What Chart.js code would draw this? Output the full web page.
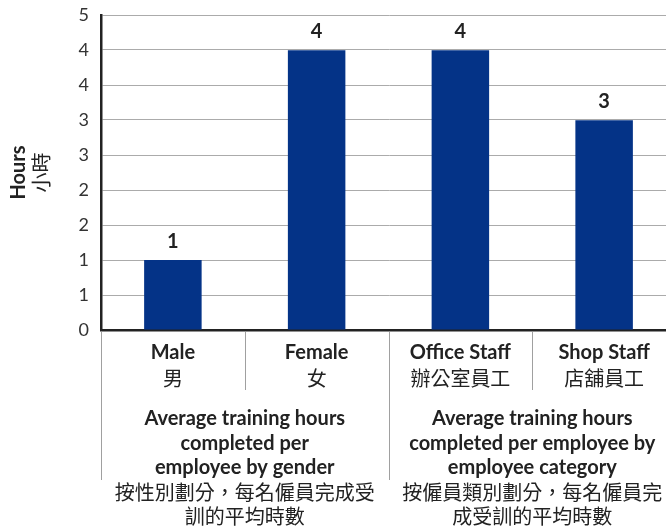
<!DOCTYPE html>
<html>
<head>
<meta charset="utf-8">
<script src="https://cdn.jsdelivr.net/npm/chart.js@4"></script>
<style>
  body { margin: 0; background: #fff; }
  #wrap { width: 666px; height: 527px; overflow: hidden; }
</style>
</head>
<body>
<div id="wrap"><canvas id="chart" width="676" height="527"></canvas></div>
<script>
// ================= DATA =================
const categoriesEn = ["Male", "Female", "Office Staff", "Shop Staff"];
const categoriesZh = ["男", "女", "辦公室員工", "店舖員工"];
const hours = [1.11, 4.44, 4.44, 3.33];
const yTickValues = [0, 5 / 9, 10 / 9, 15 / 9, 20 / 9, 25 / 9, 30 / 9, 35 / 9, 40 / 9, 5];
const yTitleEn = "Hours";
const yTitleZh = "小時";
const groups = [
  {
    from: 0, to: 1,
    en: ["Average training hours", "completed per", "employee by gender"],
    zh: ["按性別劃分，每名僱員完成受", "訓的平均時數"]
  },
  {
    from: 2, to: 3,
    en: ["Average training hours", "completed per employee by", "employee category"],
    zh: ["按僱員類別劃分，每名僱員完", "成受訓的平均時數"]
  }
];

const LATIN = "Lato, 'Open Sans', sans-serif";
const CJK = "'Noto Sans CJK TC', 'Noto Sans CJK SC', sans-serif";
const TEXT = "#222";

// ================= LABELS PLUGIN =================
const labelsPlugin = {
  id: "labels",
  afterDraw(chart) {
    const ctx = chart.ctx;
    const x = chart.scales.x;
    const area = chart.chartArea;
    const meta = chart.getDatasetMeta(0);
    const half = (x.getPixelForValue(1) - x.getPixelForValue(0)) / 2;
    ctx.save();
    ctx.textAlign = "center";
    ctx.textBaseline = "middle";
    ctx.fillStyle = TEXT;

    // value labels
    ctx.font = "bold 20px " + LATIN;
    meta.data.forEach((bar, i) => {
      ctx.fillText(Math.round(hours[i]), bar.x, bar.y - 19);
    });

    // separators
    ctx.strokeStyle = "#a0a0a0";
    ctx.lineWidth = 1;
    const bottom = area.bottom;
    const sep = (px, len) => {
      ctx.beginPath();
      ctx.moveTo(Math.round(px) + 0.5, bottom + 2);
      ctx.lineTo(Math.round(px) + 0.5, bottom + len);
      ctx.stroke();
    };
    sep(area.left, 150);
    groups.forEach((g, gi) => {
      if (gi > 0) sep(x.getPixelForValue(g.from) - half, 150);
      for (let i = g.from; i < g.to; i++) sep(x.getPixelForValue(i) + half, 60);
    });

    // category labels
    categoriesEn.forEach((c, i) => {
      const cx = x.getPixelForValue(i);
      ctx.font = "bold 20px " + LATIN;
      ctx.fillText(c, cx, bottom + 23);
      ctx.font = "20px " + CJK;
      ctx.fillText(categoriesZh[i], cx, bottom + 48);
    });

    // group labels
    groups.forEach(g => {
      const left = x.getPixelForValue(g.from) - half;
      const right = x.getPixelForValue(g.to) + half;
      const cx = (left + right) / 2;
      let y = bottom + 89;
      ctx.font = "bold 20px " + LATIN;
      g.en.forEach(line => { ctx.fillText(line, cx, y); y += 24.5; });
      ctx.font = "20px " + CJK;
      g.zh.forEach(line => { ctx.fillText(line, cx, y); y += 24; });
    });

    // y title
    const cy = (area.top + area.bottom) / 2;
    ctx.translate(19, cy);
    ctx.rotate(-Math.PI / 2);
    ctx.font = "bold 20px " + LATIN;
    ctx.fillText(yTitleEn, 0, 0);
    ctx.font = "20px " + CJK;
    ctx.fillText(yTitleZh, 0, 22);
    ctx.restore();
  }
};

// ================= CHART =================
new Chart(document.getElementById("chart"), {
  type: "bar",
  data: {
    labels: categoriesEn,
    datasets: [{
      data: hours,
      backgroundColor: "#043387",
      barPercentage: 0.4,
      categoryPercentage: 1
    }]
  },
  options: {
    responsive: false,
    animation: false,
    devicePixelRatio: 1,
    layout: { padding: { top: 15, right: 0, left: 0, bottom: 0 } },
    plugins: { legend: { display: false }, tooltip: { enabled: false } },
    scales: {
      x: {
        ticks: { display: false },
        grid: { display: false },
        border: { color: "#222", width: 2.5 },
        afterFit: s => { s.height = 197; }
      },
      y: {
        min: 0,
        max: 5,
        afterBuildTicks: s => { s.ticks = yTickValues.map(v => ({ value: v })); },
        afterFit: s => { s.width = 101; s.paddingTop = 0; s.paddingBottom = 0; },
        ticks: {
          padding: 12,
          color: "#333",
          font: { family: LATIN, size: 18 },
          callback: v => Math.round(v)
        },
        grid: { color: "#ababab", lineWidth: 1, drawTicks: false },
        border: { color: "#222", width: 2.5 }
      }
    }
  },
  plugins: [labelsPlugin]
});
</script>
</body>
</html>
